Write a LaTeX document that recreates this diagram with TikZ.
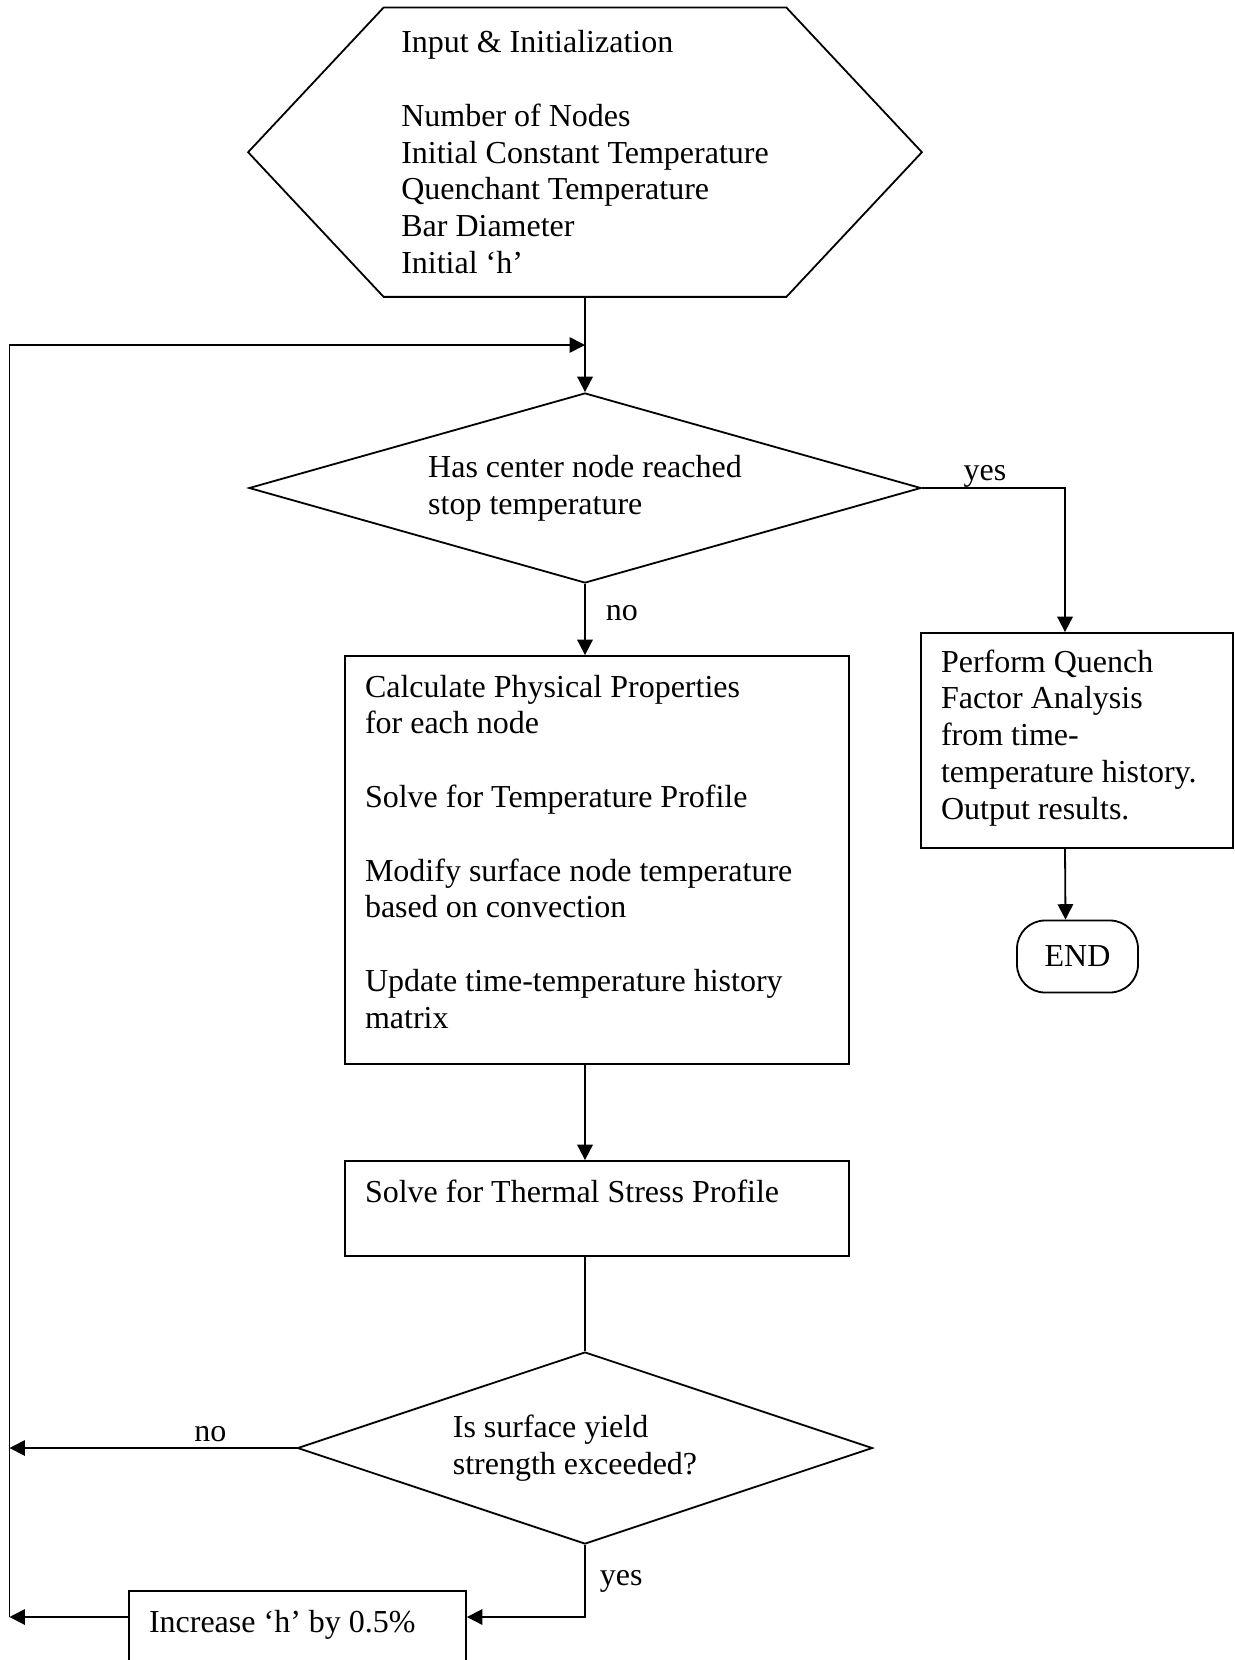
\documentclass[tikz,border=0pt]{standalone}
\usepackage{fontspec}
\setmainfont{Liberation Serif}
\usetikzlibrary{shapes.geometric,arrows.meta}
\begin{document}
\begin{tikzpicture}[x=1pt,y=-1pt,line width=0.9pt,
		font=\fontsize{16pt}{18.4pt}\selectfont,
		arr/.style={-{Triangle[length=7.7pt,width=7.7pt]}},
		decision/.style={diamond,draw,aspect=3.5,inner sep=0pt,align=left},
		block/.style={rectangle,draw,inner xsep=10pt,inner ysep=0pt,align=flush left,text height=20.5pt},
		lbl/.style={inner sep=0pt}]
	\useasboundingbox (0,0) rectangle (617.5,830);
	% input hexagon
	\node[minimum width=336pt,minimum height=143.75pt,align=left] (input) at (292.5,76.1)
		{Input \& Initialization\\[18.4pt]Number of Nodes\\Initial Constant Temperature\\Quenchant Temperature\\Bar Diameter\\Initial ‘h’};
	\draw (input.west) -- ([xshift=67.75pt]input.north west) -- ([xshift=-67.75pt]input.north east)
		-- (input.east) -- ([xshift=-67.75pt]input.south east) -- ([xshift=67.75pt]input.south west) -- cycle;
	% decisions
	\node[decision,minimum width=336pt,minimum height=95pt] (stop) at (292.5,244)
		{Has center node reached\\stop temperature};
	\node[decision,minimum width=287.5pt,minimum height=96pt] (yield) at (292.5,724)
		{Is surface yield\\strength exceeded?\hspace*{10pt}};
	% boxes
	\node[block,text width=232pt,text depth=183.5pt] (props) at (298.5,430)
		{Calculate Physical Properties\\for each node\\[18.4pt]Solve for Temperature Profile\\[18.4pt]Modify surface node temperature\\based on convection\\[18.4pt]Update time-temperature history\\matrix};
	\node[block,text width=232pt,text depth=27pt] (stress) at (298.5,604.25)
		{Solve for Thermal Stress Profile};
	\node[block,text width=136pt,text height=19.5pt,text depth=88pt] (quench) at (538.5,370.25)
		{Perform Quench\\Factor Analysis\\from time-\\temperature~history.\\Output results.};
	\node[draw,rounded corners=14pt,minimum width=60.5pt,minimum height=36pt] (done) at (538.75,478.25) {END};
	\node[block,text width=148.5pt,text depth=27pt] (incr) at (148.75,819.25)
		{Increase ‘h’ by 0.5\%};
	% connectors
	\coordinate (lt) at (4.75,172.5);
	\coordinate (lb) at (4.75,808.5);
	\draw[arr] (input.south) -- (stop.north);
	\draw[arr] (stop.east) -| node[lbl,pos=0.22,anchor=base,yshift=3.7pt] {yes} ([xshift=-6pt]quench.north);
	\draw[arr] (stop.south) -- node[lbl,pos=0.52,anchor=base west,xshift=10pt] {no} (stop.south |- props.north);
	\draw[arr] ([xshift=-6pt]quench.south) -- ([xshift=-6pt]done.north);
	\draw[arr] ([xshift=-6pt]props.south) -- ([xshift=-6pt]stress.north);
	\draw (stress.south -| yield.north) -- (yield.north);
	\draw[arr] (yield.west) -- node[lbl,pos=0.3,anchor=base,yshift=3.3pt] {no} (yield.west -| lb);
	\draw[arr] (yield.south) |- node[lbl,pos=0.28,anchor=base west,xshift=7pt] {yes} (incr.east |- lb);
	\draw[arr] (incr.west |- lb) -- (lb);
	\draw[arr] (lb) -- (lt) -- (input.south |- lt);
\end{tikzpicture}
\end{document}
